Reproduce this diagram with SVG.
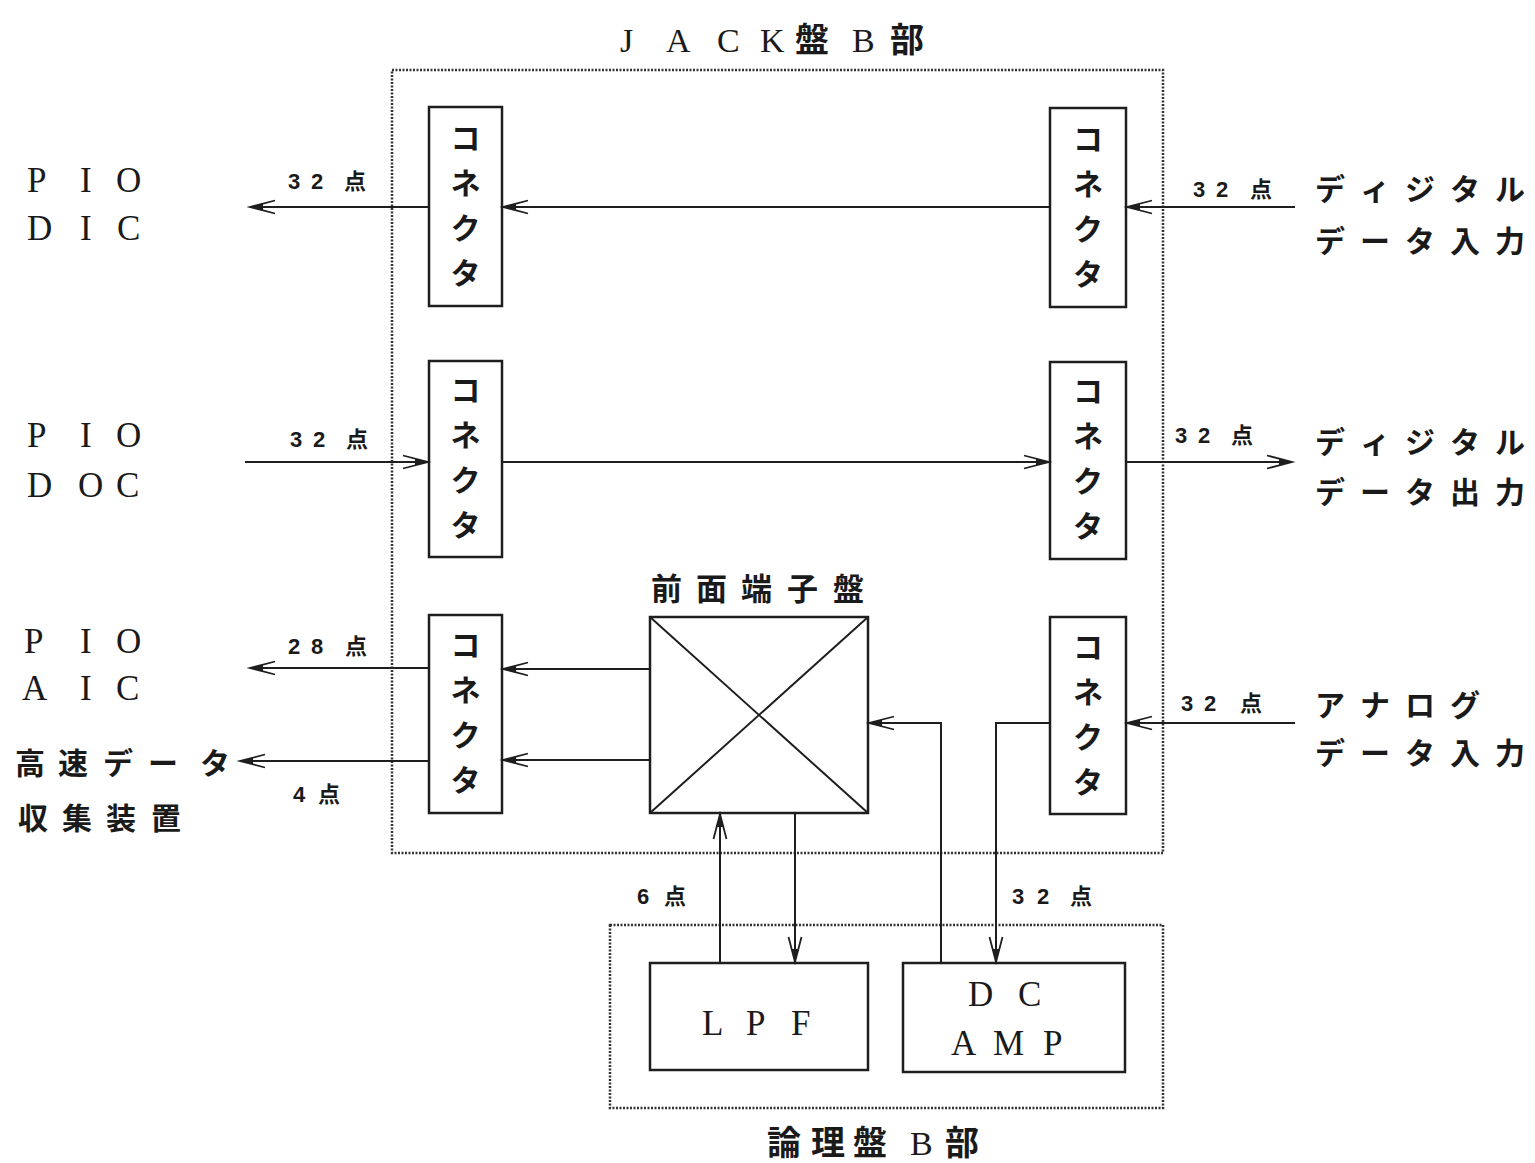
<svg xmlns="http://www.w3.org/2000/svg" width="1535" height="1163" viewBox="0 0 1535 1163">
<style>
.bg{fill:#fff}
.box{fill:none;stroke:#1e1e1e;stroke-width:2.5}
.dot{fill:none;stroke:#333;stroke-width:2.5;stroke-dasharray:2 1.5}
.ln{fill:none;stroke:#1e1e1e;stroke-width:2}
.lat{font-family:"Liberation Serif","Noto Sans CJK JP",serif;font-size:35px;fill:#1a1a1a}
.jp{font-family:"Noto Sans CJK JP",sans-serif;font-size:30px;font-weight:bold;fill:#1a1a1a}
.jpb{font-family:"Noto Sans CJK JP",sans-serif;font-size:31px;font-weight:bold;fill:#1a1a1a}
.ttl{font-family:"Liberation Serif","Noto Sans CJK JP",serif;font-size:34px;fill:#1a1a1a}
.cjk{font-family:"Noto Sans CJK JP",sans-serif;font-weight:bold}
.num{font-family:"Liberation Sans","Noto Sans CJK JP",sans-serif;font-size:22px;font-weight:bold;fill:#1a1a1a}
.con{font-family:"Noto Sans CJK JP",sans-serif;font-size:30px;font-weight:bold;fill:#1a1a1a;text-anchor:middle}
</style>
<defs>
<marker id="arr" viewBox="-30 -9 32 18" markerWidth="32" markerHeight="18" refX="0" refY="0" orient="auto" markerUnits="userSpaceOnUse" overflow="visible">
<path d="M0,0 L-13,-3.5 L-13,3.5 Z" fill="#1e1e1e"/>
<path d="M-25,-6.5 L0,0 L-25,6.5" fill="none" stroke="#1e1e1e" stroke-width="1.8"/>
</marker>
</defs>
<rect class="bg" x="0" y="0" width="1535" height="1163"/>

<g id="jack-board">
<rect class="dot" x="392" y="70" width="771" height="783"/>
<text class="ttl" y="52"><tspan x="620 666 717 760">JACK</tspan><tspan class="cjk" x="795">盤</tspan><tspan x="852">B</tspan><tspan class="cjk" x="890">部</tspan></text>
</g>

<g id="logic-board">
<rect class="dot" x="610" y="925" width="553" height="183"/>
<text class="ttl" y="1155"><tspan class="cjk" x="767 811 853">論理盤</tspan><tspan x="910">B</tspan><tspan class="cjk" x="945">部</tspan></text>
</g>

<g id="conn-l1"><rect class="box" x="429" y="107" width="73" height="199"/><text class="con" x="465.5 465.5 465.5 465.5" y="149 194 239 284">コネクタ</text></g>
<g id="conn-r1"><rect class="box" x="1050" y="108" width="76" height="199"/><text class="con" x="1088 1088 1088 1088" y="150 195 240 285">コネクタ</text></g>
<g id="conn-l2"><rect class="box" x="429" y="361" width="73" height="196"/><text class="con" x="465.5 465.5 465.5 465.5" y="401 446 491 536">コネクタ</text></g>
<g id="conn-r2"><rect class="box" x="1050" y="362" width="76" height="197"/><text class="con" x="1088 1088 1088 1088" y="402 447 492 537">コネクタ</text></g>
<g id="conn-l3"><rect class="box" x="429" y="615" width="73" height="198"/><text class="con" x="465.5 465.5 465.5 465.5" y="656 701 746 791">コネクタ</text></g>
<g id="conn-r3"><rect class="box" x="1050" y="617" width="76" height="197"/><text class="con" x="1088 1088 1088 1088" y="658 703 748 793">コネクタ</text></g>

<g id="front-panel">
<rect class="box" x="650" y="617" width="218" height="196"/>
<path class="ln" d="M650,617 L868,813 M868,617 L650,813"/>
<text class="jpb" x="651 696 741 787 833" y="600">前面端子盤</text>
</g>

<g id="lpf">
<rect class="box" x="650" y="963" width="218" height="107"/>
<text class="lat" x="702 746 791" y="1035">LPF</text>
</g>

<g id="dc-amp">
<rect class="box" x="903" y="963" width="222" height="109"/>
<text class="lat" x="968 1018" y="1006">DC</text>
<text class="lat" x="951 993 1043" y="1055">AMP</text>
</g>

<g id="pio-dic"><text class="lat" x="27 80 116" y="192">PIO</text><text class="lat" x="27 80 117" y="240">DIC</text></g>
<g id="pio-doc"><text class="lat" x="27 80 116" y="447">PIO</text><text class="lat" x="27 78 116" y="497">DOC</text></g>
<g id="pio-aic"><text class="lat" x="24 80 116" y="653">PIO</text><text class="lat" x="22 80 116" y="700">AIC</text></g>
<g id="hsdaq"><text class="jp" x="15 58 103 148 200" y="774">高速データ</text><text class="jp" x="18 62 106 151" y="829">収集装置</text></g>

<g id="digital-in"><text class="jp" x="1315 1360 1405 1450 1495" y="200">ディジタル</text><text class="jp" x="1315 1360 1405 1450 1495" y="252">データ入力</text></g>
<g id="digital-out"><text class="jp" x="1315 1360 1405 1450 1495" y="453">ディジタル</text><text class="jp" x="1315 1360 1405 1450 1495" y="503">データ出力</text></g>
<g id="analog-in"><text class="jp" x="1315 1360 1405 1450" y="716">アナログ</text><text class="jp" x="1315 1360 1405 1450 1495" y="764">データ入力</text></g>

<g id="connectors">
<path class="ln" marker-end="url(#arr)" d="M1050,207 H503"/>
<path class="ln" marker-end="url(#arr)" d="M429,207 H250"/>
<path class="ln" marker-end="url(#arr)" d="M1295,207 H1127"/>
<path class="ln" marker-end="url(#arr)" d="M245,462 H428"/>
<path class="ln" marker-end="url(#arr)" d="M502,462 H1049"/>
<path class="ln" marker-end="url(#arr)" d="M1126,462 H1292"/>
<path class="ln" marker-end="url(#arr)" d="M429,668 H250"/>
<path class="ln" marker-end="url(#arr)" d="M429,761 H240"/>
<path class="ln" marker-end="url(#arr)" d="M650,669 H503"/>
<path class="ln" marker-end="url(#arr)" d="M650,760 H503"/>
<path class="ln" marker-end="url(#arr)" d="M1295,723 H1127"/>
<path class="ln" marker-end="url(#arr)" d="M1050,723 H996 V962"/>
<path class="ln" marker-end="url(#arr)" d="M941,963 V723 H869"/>
<path class="ln" marker-end="url(#arr)" d="M720,963 V814"/>
<path class="ln" marker-end="url(#arr)" d="M795,813 V962"/>
<text class="num" x="288 311 344" y="189">32点</text>
<text class="num" x="1193 1216 1250" y="197">32点</text>
<text class="num" x="290 313 346" y="447">32点</text>
<text class="num" x="1175 1198 1231" y="443">32点</text>
<text class="num" x="288 311 345" y="654">28点</text>
<text class="num" x="293 318" y="802">4点</text>
<text class="num" x="1181 1204 1240" y="711">32点</text>
<text class="num" x="637 664" y="904">6点</text>
<text class="num" x="1012 1037 1070" y="904">32点</text>
</g>
</svg>
